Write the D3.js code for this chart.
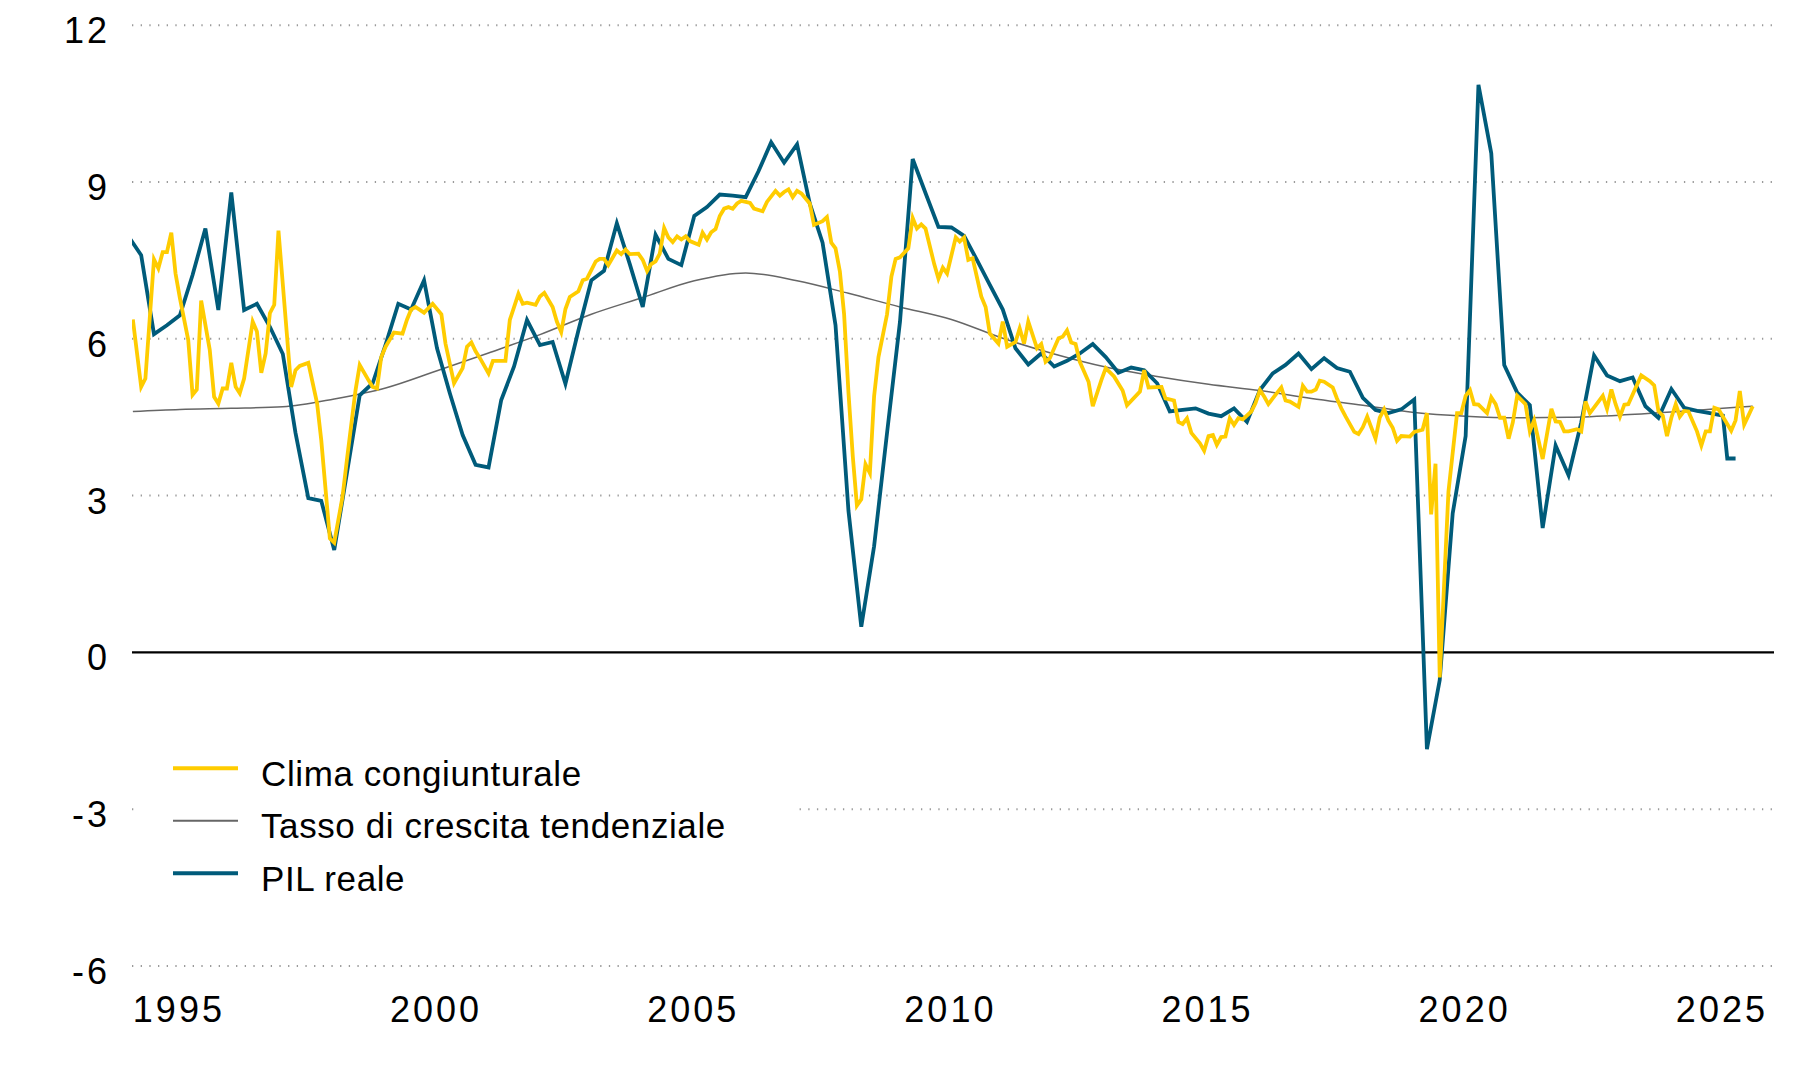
<!DOCTYPE html>
<html lang="it">
<head>
<meta charset="utf-8">
<title>Clima congiunturale e PIL reale</title>
<script src="https://cdn.jsdelivr.net/npm/d3@7"></script>
<style>
  body { margin: 0; background: #fff; font-family: "Liberation Sans", Arial, sans-serif; }
  #chart svg { display: block; }
</style>
</head>
<body>
<div id="chart"></div>
<script>
// tick labels
const xTicks = [1995, 2000, 2005, 2010, 2015, 2020, 2025];
const yTicks = [-6, -3, 0, 3, 6, 9, 12];

// legend
const seriesNames = ["Clima congiunturale", "Tasso di crescita tendenziale", "PIL reale"];
const seriesColours = ["#ffcc00", "#666666", "#005b7a"];

// Clima congiunturale: months counted from January 1994, and values
const climaMonth = [
  1, 3, 4, 6, 7, 8, 9, 10, 11, 12, 14, 15, 16, 17, 19, 20, 21, 22, 23, 24,
  25, 26, 27, 29, 30, 31, 32, 33, 34, 35, 38, 39, 40, 42, 44, 45, 47, 48, 50, 51,
  53, 54, 56, 57, 58, 59, 60, 62, 64, 65, 66, 67, 69, 71, 73, 74, 76, 78, 79, 80,
  81, 82, 84, 85, 88, 89, 91, 92, 93, 95, 96, 97, 99, 100, 101, 102, 103, 105, 106, 107,
  109, 110, 111, 112, 114, 115, 116, 117, 119, 120, 121, 122, 123, 124, 125, 126, 127, 128, 129, 130,
  131, 133, 134, 135, 136, 137, 138, 139, 140, 141, 142, 143, 145, 146, 148, 149, 151, 152, 153, 154,
  155, 156, 157, 159, 160, 162, 163, 164, 165, 166, 167, 168, 169, 170, 171, 172, 173, 174, 175, 177,
  178, 179, 180, 182, 183, 184, 185, 186, 188, 189, 190, 191, 193, 194, 195, 196, 197, 199, 200, 201,
  203, 204, 205, 207, 208, 209, 210, 212, 213, 214, 215, 217, 218, 219, 220, 221, 222, 224, 225, 227,
  228, 230, 232, 233, 236, 237, 238, 241, 242, 244, 245, 246, 247, 248, 250, 251, 252, 253, 254, 255,
  256, 257, 258, 259, 260, 262, 263, 264, 265, 266, 267, 269, 270, 271, 273, 274, 275, 276, 277, 278,
  279, 281, 282, 283, 284, 286, 287, 288, 289, 290, 291, 292, 293, 294, 295, 296, 297, 299, 300, 302,
  303, 304, 305, 306, 308, 310, 311, 312, 313, 314, 315, 317, 318, 319, 320, 321, 322, 323, 324, 326,
  327, 328, 330, 332, 333, 334, 335, 336, 338, 339, 340, 341, 344, 345, 346, 347, 348, 349, 350, 353,
  355, 356, 357, 358, 359, 360, 361, 362, 363, 364, 366, 367, 368, 369, 370, 371, 374, 375, 376, 377,
  378, 379
];
const climaValue = [
  6.36, 5.07, 5.23, 7.51, 7.34, 7.65, 7.65, 8.02, 7.24, 6.77, 5.97, 4.92, 5.02, 6.72, 5.78, 4.88, 4.75, 5.04, 5.04, 5.53,
  5.07, 4.95, 5.23, 6.32, 6.13, 5.34, 5.71, 6.48, 6.64, 8.06, 5.07, 5.39, 5.47, 5.53, 4.76, 4.05, 2.17, 2.09, 2.97, 3.67,
  5.00, 5.49, 5.20, 5.07, 5.04, 5.64, 5.84, 6.11, 6.09, 6.35, 6.55, 6.60, 6.49, 6.66, 6.46, 5.90, 5.14, 5.43, 5.84, 5.92,
  5.75, 5.62, 5.33, 5.57, 5.57, 6.35, 6.85, 6.66, 6.68, 6.64, 6.80, 6.87, 6.60, 6.32, 6.12, 6.56, 6.79, 6.90, 7.11, 7.14,
  7.47, 7.52, 7.52, 7.40, 7.68, 7.61, 7.70, 7.61, 7.62, 7.50, 7.29, 7.42, 7.47, 7.62, 8.11, 7.93, 7.84, 7.95, 7.89, 7.95,
  7.86, 7.79, 8.02, 7.89, 8.03, 8.09, 8.34, 8.48, 8.51, 8.48, 8.58, 8.63, 8.59, 8.48, 8.43, 8.61, 8.82, 8.73, 8.80, 8.85,
  8.70, 8.82, 8.77, 8.58, 8.17, 8.24, 8.32, 7.83, 7.72, 7.28, 6.46, 4.96, 3.73, 2.80, 2.92, 3.59, 3.42, 4.89, 5.64, 6.46,
  7.18, 7.52, 7.55, 7.72, 8.30, 8.10, 8.18, 8.10, 7.42, 7.14, 7.35, 7.24, 7.93, 7.85, 7.93, 7.50, 7.53, 6.80, 6.60, 6.09,
  5.90, 6.32, 5.84, 5.93, 6.19, 5.90, 6.32, 5.81, 5.89, 5.55, 5.62, 6.00, 6.03, 6.15, 5.92, 5.89, 5.55, 5.17, 4.70, 5.20,
  5.43, 5.27, 5.00, 4.72, 4.98, 5.39, 5.06, 5.07, 4.85, 4.81, 4.40, 4.36, 4.47, 4.19, 3.99, 3.85, 4.13, 4.15, 3.96, 4.11,
  4.12, 4.47, 4.34, 4.47, 4.45, 4.60, 4.76, 5.01, 4.88, 4.74, 4.85, 5.06, 4.81, 4.79, 4.69, 5.09, 4.98, 4.98, 5.02, 5.19,
  5.17, 5.06, 4.85, 4.66, 4.50, 4.21, 4.17, 4.30, 4.50, 4.30, 4.08, 4.48, 4.64, 4.43, 4.29, 4.04, 4.13, 4.12, 4.21, 4.25,
  4.57, 2.63, 3.60, -0.49, 3.07, 4.57, 4.57, 4.90, 5.01, 4.74, 4.73, 4.57, 4.87, 4.74, 4.48, 4.48, 4.08, 4.39, 4.90, 4.74,
  4.22, 4.43, 3.69, 4.65, 4.41, 4.40, 4.22, 4.22, 4.26, 4.22, 4.79, 4.57, 4.90, 4.65, 5.02, 4.74, 4.50, 4.73, 4.74, 5.29,
  5.18, 5.10, 4.61, 4.52, 4.13, 4.48, 4.74, 4.50, 4.61, 4.60, 4.22, 3.95, 4.22, 4.22, 4.67, 4.64, 4.23, 4.43, 4.99, 4.35,
  4.52, 4.70
];

// Tasso di crescita tendenziale (smooth trend), months from January 1994
const trendMonth = [1, 12, 24, 36, 48, 60, 72, 84, 96, 108, 120, 132, 144, 156, 168, 180, 192,
  204, 216, 228, 240, 252, 264, 276, 288, 300, 312, 324, 336, 348, 360, 372, 379];
const trendValue = [4.60, 4.64, 4.66, 4.69, 4.84, 5.05, 5.38, 5.72, 6.07, 6.46, 6.78, 7.10, 7.25, 7.10, 6.86, 6.60, 6.36,
  6.00, 5.70, 5.45, 5.27, 5.12, 5.00, 4.85, 4.72, 4.58, 4.51, 4.48, 4.49, 4.53, 4.59, 4.66, 4.70];

// PIL reale, quarterly from Q1 1994 to Q1 2025
const pilValue = [
  7.95, 7.59, 6.08, 6.25, 6.44, 7.21, 8.10, 6.54, 8.79, 6.54,
  6.66, 6.22, 5.70, 4.19, 2.94, 2.89, 1.95, 3.42, 4.91, 5.14,
  5.88, 6.66, 6.55, 7.11, 5.81, 4.95, 4.15, 3.58, 3.53, 4.82,
  5.46, 6.35, 5.87, 5.93, 5.13, 6.15, 7.11, 7.29, 8.20, 7.42,
  6.60, 7.98, 7.52, 7.40, 8.34, 8.51, 8.75, 8.73, 8.70, 9.19,
  9.75, 9.36, 9.71, 8.58, 7.83, 6.25, 2.70, 0.48, 2.02, 4.19,
  6.32, 9.43, 8.78, 8.13, 8.12, 7.96, 7.50, 7.02, 6.55, 5.81,
  5.50, 5.71, 5.46, 5.57, 5.71, 5.89, 5.64, 5.34, 5.44, 5.39,
  5.14, 4.60, 4.63, 4.66, 4.56, 4.51, 4.66, 4.40, 5.01, 5.33,
  5.49, 5.71, 5.41, 5.62, 5.43, 5.36, 4.86, 4.63, 4.57, 4.64,
  4.83, -1.86, -0.54, 2.65, 4.13, 10.85, 9.54, 5.49, 4.96, 4.72,
  2.37, 3.95, 3.38, 4.39, 5.67, 5.29, 5.18, 5.25, 4.70, 4.48,
  5.03, 4.67, 4.61, 4.57, 4.52
];
// last PIL readings, months from January 1994
const pilTailMonth = [373, 375];
const pilTailValue = [3.70, 3.70];

const width = 1800;
const height = 1080;
const plotLeft = 132;
const plotRight = 1774;

const svg = d3.select('#chart')
  .append('svg')
  .attr('width', width)
  .attr('height', height)
  .style('background', '#fff');

// scales
const x = d3.scaleTime()
  .domain([new Date(1994, 0, 1), new Date(2026, 0, 1)])
  .range([128.5, 1774.3]);
const y = d3.scaleLinear()
  .domain([-6, 12])
  .range([965.5, 24.7]);

// build point lists from the arrays
const climaData = climaMonth.map((m, i) => ({ date: new Date(1994, m, 1), value: climaValue[i] }));
const trendData = trendMonth.map((m, i) => ({ date: new Date(1994, m, 1), value: trendValue[i] }));
const pilData = pilValue.map((v, i) => ({ date: new Date(1994, i * 3, 1), value: v }))
  .concat(pilTailMonth.map((m, i) => ({ date: new Date(1994, m, 1), value: pilTailValue[i] })));

// y axis with dotted gridlines
const yAxis = svg.append('g')
  .attr('transform', `translate(${plotLeft},0)`)
  .call(d3.axisLeft(y)
    .tickValues(yTicks)
    .tickSize(-(plotRight - plotLeft))
    .tickPadding(22)
    .tickFormat(d => String(d)));

yAxis.select('.domain').remove();
yAxis.selectAll('.tick line')
  .attr('stroke', d => d === 0 ? '#000' : '#9a9a9a')
  .attr('stroke-width', d => d === 0 ? 2.2 : 2)
  .attr('stroke-dasharray', d => d === 0 ? null : '1.3 7.37');
yAxis.selectAll('.tick text')
  .attr('dy', 0)
  .attr('y', 18)
  .style('font-family', '"Liberation Sans", Arial, sans-serif')
  .style('font-size', '36px')
  .style('letter-spacing', '3px')
  .attr('fill', '#000');

// x axis labels only
const xAxis = svg.append('g')
  .call(d3.axisBottom(x)
    .tickValues(xTicks.map(yr => new Date(yr, 0, 1)))
    .tickSize(0)
    .tickFormat(d3.timeFormat('%Y')));

xAxis.select('.domain').remove();
xAxis.selectAll('.tick text')
  .attr('dy', 0)
  .attr('y', 1021.5)
  .attr('dx', -1.5)
  .style('font-family', '"Liberation Sans", Arial, sans-serif')
  .style('font-size', '36px')
  .style('letter-spacing', '3px')
  .attr('fill', '#000');

// clip the lines to the plot area
svg.append('clipPath')
  .attr('id', 'plot-clip')
  .append('rect')
  .attr('x', plotLeft)
  .attr('y', 0)
  .attr('width', plotRight - plotLeft)
  .attr('height', height);

const line = d3.line()
  .x(d => x(d.date))
  .y(d => y(d.value));

const lines = svg.append('g').attr('clip-path', 'url(#plot-clip)');

lines.append('path')
  .datum(trendData)
  .attr('fill', 'none')
  .attr('stroke', seriesColours[1])
  .attr('stroke-width', 1.5)
  .attr('d', line.curve(d3.curveMonotoneX));

lines.append('path')
  .datum(pilData)
  .attr('fill', 'none')
  .attr('stroke', seriesColours[2])
  .attr('stroke-width', 3.8)
  .attr('d', line.curve(d3.curveLinear));

lines.append('path')
  .datum(climaData)
  .attr('fill', 'none')
  .attr('stroke', seriesColours[0])
  .attr('stroke-width', 3.8)
  .attr('d', line.curve(d3.curveLinear));

// legend, on a white box that hides the -3 gridline behind it
const legend = svg.append('g');
legend.append('rect')
  .attr('x', 135)
  .attr('y', 735)
  .attr('width', 661)
  .attr('height', 170)
  .attr('fill', '#fff');

const legendRows = legend.selectAll('.legend-row')
  .data(seriesNames)
  .join('g')
  .attr('class', 'legend-row')
  .attr('transform', (d, i) => `translate(0,${768.3 + i * 52.5})`);

legendRows.append('line')
  .attr('x1', 173)
  .attr('x2', 238)
  .attr('stroke', (d, i) => seriesColours[i])
  .attr('stroke-width', (d, i) => i === 1 ? 2 : 4);

legendRows.append('text')
  .attr('x', 261)
  .attr('y', 17.5)
  .style('font-family', '"Liberation Sans", Arial, sans-serif')
  .style('font-size', '35px')
  .style('letter-spacing', '0.6px')
  .attr('fill', '#000')
  .text(d => d);
</script>
</body>
</html>
